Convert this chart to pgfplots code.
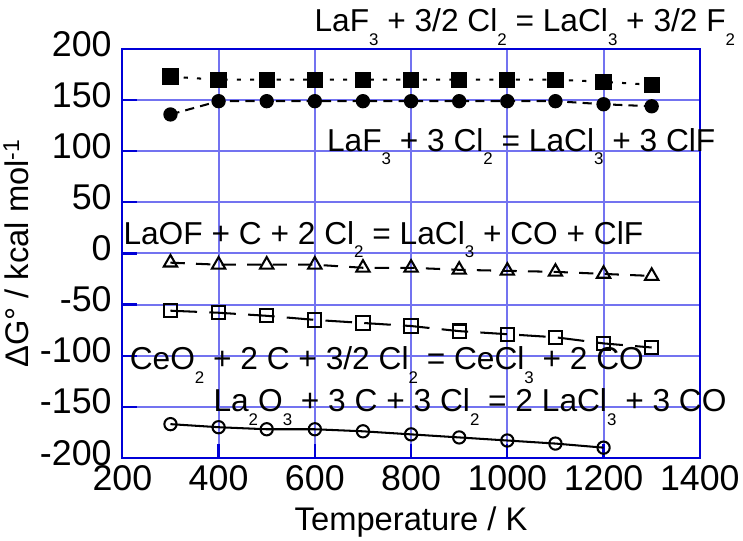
\documentclass[border=0pt]{standalone}
\usepackage{fontspec}
\setmainfont{Liberation Sans}
\usepackage{pgfplots}
\pgfplotsset{compat=1.18}
\definecolor{gridblue}{RGB}{115,115,240}
\definecolor{frameblue}{RGB}{0,0,215}
% chemical subscript, set low and small as in the equations
\newcommand\sub[1]{\raisebox{-0.43em}{\fontsize{16.5}{16.5}\selectfont #1}}
\begin{document}
\begin{tikzpicture}
\begin{axis}[
  scale only axis, width=565pt, height=400pt,
  xmin=200, xmax=1400, ymin=-200, ymax=200,
  xtick={200,400,...,1400}, ytick={-200,-150,...,200},
  grid=major,
  every axis grid/.style={draw=gridblue, line width=2pt},
  every major grid/.style={draw=gridblue, line width=2pt},
  axis line style={frameblue, line width=2.2pt},
  tick style={frameblue, line width=2.2pt}, major tick length=14pt, tick align=inside,
  xtick pos=bottom, ytick pos=left,
  tick label style={font=\fontsize{35}{38}\selectfont},
  yticklabel style={xshift=-7pt, yshift=5pt},
  xticklabel style={yshift=-4pt},
  /pgf/number format/assume math mode=true,
  /pgf/number format/1000 sep={},
  xlabel={Temperature / K},
  ylabel={ΔG° / kcal mol\textsuperscript{-1}},
  label style={font=\fontsize{32}{36}\selectfont},
  xlabel style={at={(axis description cs:0.5,0)}, anchor=center, yshift=-63pt},
  ylabel style={at={(axis description cs:0,0.5)}, rotate=0, anchor=center, yshift=104pt},
  clip=false,
]
% LaF3 + 3/2 Cl2 = LaCl3 + 3/2 F2
\addplot[black, line width=2pt, dash pattern=on 4pt off 9pt,
  mark=square*, mark size=7pt, mark options={solid, fill=black}] coordinates {
  (300,173) (400,170) (500,170) (600,170) (700,170) (800,170)
  (900,170) (1000,170) (1100,170) (1200,168) (1300,165)};
% LaF3 + 3 Cl2 = LaCl3 + 3 ClF
\addplot[black, line width=2pt, dash pattern=on 9pt off 6pt,
  mark=*, mark size=6pt, mark options={solid, fill=black}] coordinates {
  (300,136) (400,149) (500,149) (600,149) (700,149) (800,149)
  (900,149) (1000,149) (1100,149) (1200,146) (1300,144)};
% LaOF + C + 2 Cl2 = LaCl3 + CO + ClF
\addplot[black, line width=2pt, dash pattern=on 14pt off 11pt,
  mark=triangle, mark size=7.5pt, mark options={solid, line width=2pt}] coordinates {
  (300,-9) (400,-11) (500,-11) (600,-11) (700,-14) (800,-14)
  (900,-16) (1000,-17) (1100,-18) (1200,-20) (1300,-22)};
% CeO2 + 2 C + 3/2 Cl2 = CeCl3 + 2 CO
\addplot[black, line width=2pt, dash pattern=on 26pt off 12pt,
  mark=square, mark size=6.5pt, mark options={solid, line width=2pt}] coordinates {
  (300,-56) (400,-58) (500,-61) (600,-65) (700,-68) (800,-71)
  (900,-76) (1000,-79) (1100,-82) (1200,-88) (1300,-92)};
% La2O3 + 3 C + 3 Cl2 = 2 LaCl3 + 3 CO
\addplot[black, line width=2pt,
  mark=o, mark size=6pt, mark options={solid, line width=2pt}] coordinates {
  (300,-167) (400,-170) (500,-172) (600,-172) (700,-174) (800,-177)
  (900,-180) (1000,-183) (1100,-186) (1200,-190)};

\begin{scope}[every node/.style={anchor=base west, inner sep=0pt, font=\fontsize{31}{33}\selectfont}]
\node at (axis cs:599,217) {LaF\sub{3} + 3/2 Cl\sub{2} = LaCl\sub{3} + 3/2 F\sub{2}};
\node at (axis cs:625,100) {LaF\sub{3} + 3 Cl\sub{2} = LaCl\sub{3} + 3 ClF};
\node at (axis cs:202,9) {LaOF + C + 2 Cl\sub{2} = LaCl\sub{3} + CO + ClF};
\node at (axis cs:215,-114) {CeO\sub{2} + 2 C + 3/2 Cl\sub{2} = CeCl\sub{3} + 2 CO};
\node at (axis cs:389,-155) {La\sub{2}O\sub{3} + 3 C + 3 Cl\sub{2} = 2 LaCl\sub{3} + 3 CO};
\end{scope}
% margin above the top equation
\path (axis cs:600,248);
\end{axis}
\end{tikzpicture}
\end{document}
